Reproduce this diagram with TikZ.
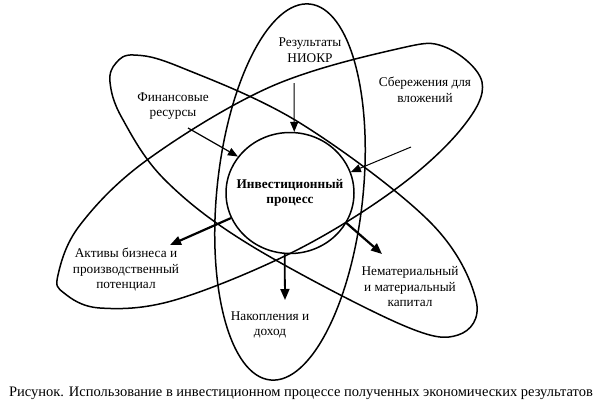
\documentclass[tikz,border=0pt]{standalone}
\usepackage{fontspec}
\setmainfont{Liberation Serif}
\usetikzlibrary{arrows.meta,shapes.geometric}
\begin{document}
\begin{tikzpicture}[x=1pt,y=-1pt,
  orbit/.style={line width=1.5pt},
  lbl/.style={align=center,font=\fontsize{13.3}{15.5}\selectfont,inner sep=0pt},
  thinarrow/.style={line width=1pt,-{Triangle[length=10pt,width=8pt]}},
  thickarrow/.style={line width=2.2pt,-{Triangle[length=11pt,width=9pt]}}]
\useasboundingbox (0,0) rectangle (595,408);
% orbit A: Финансовые -- Нематериальный
\draw[orbit] plot[smooth cycle,tension=0.6] coordinates {
  (110,82) (116,63) (134,55) (180,67) (300,123) (430,222) (476,300)
  (458,335) (400,324) (250,245) (165,180) (122,118)};
% orbit B: Сбережения -- Активы
\draw[orbit] plot[smooth cycle,tension=0.6] coordinates {
  (58,275) (80,225) (147,160) (270,87) (397,49) (445,47) (482,82)
  (462,128) (397,188) (295,251) (175,300) (100,308) (64,293)};
% orbit C: vertical
\coordinate (cC) at (290,192);
\draw[orbit,rotate around={-6:(cC)}] (cC) ellipse [x radius=73, y radius=189];
% centre
\node[ellipse,draw,line width=1.5pt,minimum width=128pt,minimum height=121pt,inner sep=0pt]
      (proc) at (290,193) {};
\node[align=center,font=\fontsize{13.3}{15.5}\selectfont\bfseries,inner sep=0pt]
      (proct) at (proc.center) {Инвестиционный\\процесс};
% labels
\node[lbl] (niokr) at (310,50) {Результаты\\НИОКР};
\node[lbl] (fin) at (173,106) {Финансовые\\ресурсы};
\node[lbl] (sber) at (425,90) {Сбережения для\\вложений};
\node[lbl] (akt) at (126,270) {Активы бизнеса и\\производственный\\потенциал};
\node[lbl] (nak) at (270,325) {Накопления и\\доход};
\node[lbl] (nem) at (410,287) {Нематериальный\\и материальный\\капитал};
% arrow ends
\coordinate (s1) at (294,83);
\coordinate (s2) at (188,128);
\coordinate (s3) at (411,147);
\coordinate (e4) at (382,254);
\coordinate (e5) at (170,245);
\coordinate (e6) at (285,300);
\draw[thinarrow] (s1) -- (proc.86);
\draw[thinarrow,line width=1.2pt] (s2) -- (proc.145);
\draw[thinarrow] (s3) -- (proc.19);
\draw[thickarrow] (proc.-28) -- (e4);
\draw[thickarrow] (proc.203) -- (e5);
\draw[thickarrow,line width=1.8pt] (proc.265) -- (e6);
% caption
\node[font=\fontsize{14.5}{16}\selectfont,inner sep=0pt] (cap) at (301,393)
  {Рисунок. Использование в инвестиционном процессе полученных экономических результатов};
\end{tikzpicture}
\end{document}
